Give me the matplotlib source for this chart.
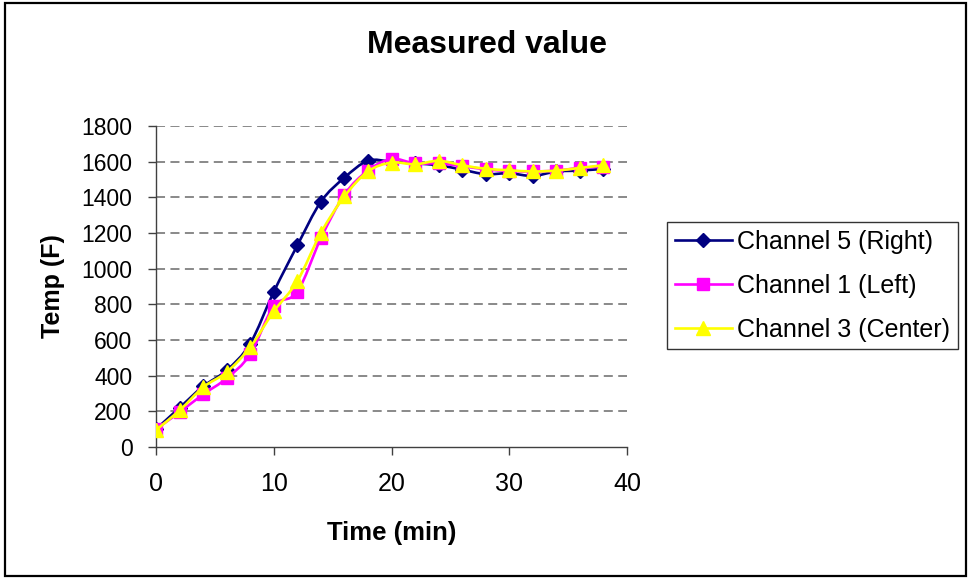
import numpy as np
import matplotlib
matplotlib.use("Agg")
import matplotlib.pyplot as plt
from matplotlib.path import Path
from matplotlib.patches import PathPatch, Rectangle
from matplotlib.lines import Line2D

plt.rcParams['font.family'] = ['Liberation Sans', 'DejaVu Sans']

# Sampling times (minutes)
time_min = [0, 2, 4, 6, 8, 10, 12, 14, 16, 18, 20, 22, 24, 26, 28, 30, 32, 34, 36, 38]

# Thermocouple readings (F)
ch5_right = [100, 220, 340, 430, 580, 870, 1130, 1375, 1510, 1605, 1600, 1590, 1580,
             1555, 1530, 1535, 1520, 1545, 1550, 1560]
ch1_left = [100, 195, 295, 385, 520, 790, 870, 1170, 1415, 1550, 1615, 1590, 1590,
            1575, 1557, 1548, 1545, 1550, 1565, 1572]
ch3_center = [95, 205, 335, 420, 560, 760, 930, 1200, 1405, 1545, 1595, 1585, 1605,
              1580, 1560, 1552, 1545, 1550, 1565, 1580]

series_names = ["Channel 5 (Right)", "Channel 1 (Left)", "Channel 3 (Center)"]
series_colors = ["#000080", "#FF00FF", "#FFFF00"]
series_markers = ["D", "s", "^"]
marker_sizes = [7.5, 8.5, 10.5]

y_ticks = [0, 200, 400, 600, 800, 1000, 1200, 1400, 1600, 1800]
x_ticks = [0, 10, 20, 30, 40]


def smooth_path(x, y):
    """Cubic Bezier path through the points (Catmull-Rom style tangents)."""
    x = np.asarray(x, float)
    y = np.asarray(y, float)
    pts = np.column_stack([x, y])
    n = len(pts)
    verts = [pts[0]]
    codes = [Path.MOVETO]
    for i in range(n - 1):
        p0 = pts[i - 1] if i > 0 else pts[i]
        p1 = pts[i]
        p2 = pts[i + 1]
        p3 = pts[i + 2] if i + 2 < n else pts[i + 1]
        c1 = p1 + (p2 - p0) / 6.0
        c2 = p2 - (p3 - p1) / 6.0
        verts += [c1, c2, p2]
        codes += [Path.CURVE4] * 3
    return Path(verts, codes)


fig = plt.figure(figsize=(9.71, 5.79), dpi=100)
fig.patch.set_facecolor("white")

# Outer chart border
fig.add_artist(Rectangle((5 / 971, 3 / 579), 961 / 971, 573 / 579,
                         transform=fig.transFigure, fill=False,
                         edgecolor="black", linewidth=1.6))

ax = fig.add_axes([156 / 971, 1 - 447 / 579, 471 / 971, 321 / 579])
ax.set_xlim(0, 40)
ax.set_ylim(0, 1800)

for yv in y_ticks[1:]:
    ax.axhline(yv, color="#808080", linewidth=1.3, linestyle=(0, (5, 3)), zorder=1)

handles = []
all_series = [ch5_right, ch1_left, ch3_center]
for k, vals in enumerate(all_series):
    col = series_colors[k]
    patch = PathPatch(smooth_path(time_min, vals), fill=False, edgecolor=col,
                      linewidth=1.9, zorder=3 + k, capstyle="round", joinstyle="round")
    ax.add_patch(patch)
    ax.plot(time_min, vals, linestyle="none", marker=series_markers[k],
            markersize=marker_sizes[k], markerfacecolor=col, markeredgecolor=col,
            zorder=3 + k)
    handles.append(Line2D([], [], color=col, linewidth=1.9, marker=series_markers[k],
                          markersize=marker_sizes[k], markerfacecolor=col,
                          markeredgecolor=col, label=series_names[k]))

ax.set_xticks(x_ticks)
ax.set_yticks(y_ticks)
ax.tick_params(axis="both", direction="out", length=6, width=1.0, color="#404040",
               pad=11)
ax.tick_params(axis="y", labelsize=16.5)
ax.tick_params(axis="x", labelsize=18, pad=12)
for side in ["top", "right"]:
    ax.spines[side].set_visible(False)
for side in ["left", "bottom"]:
    ax.spines[side].set_color("#404040")
    ax.spines[side].set_linewidth(1.0)

ax.set_xlabel("Time (min)", fontsize=18.5, fontweight="bold", labelpad=18)
ax.set_ylabel("Temp (F)", fontsize=18, fontweight="bold", labelpad=12)

fig.text(487 / 971, 1 - 45 / 579, "Measured value", fontsize=23, fontweight="bold",
         ha="center", va="center")

leg = fig.legend(handles=handles, loc="upper left",
                 bbox_to_anchor=(667 / 971, 1 - 222 / 579),
                 fontsize=18, frameon=True, fancybox=False, handlelength=2.3,
                 handletextpad=0.2, labelspacing=0.8, borderpad=0.3,
                 borderaxespad=0)
leg.get_frame().set_edgecolor("black")
leg.get_frame().set_linewidth(1.0)

fig.savefig("out.png", dpi=100)
